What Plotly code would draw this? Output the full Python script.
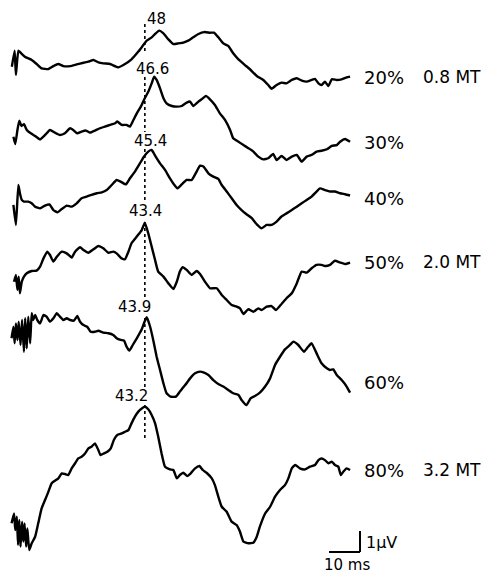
import plotly.graph_objects as go

# ---- data: time (ms) and amplitude (uV) for each averaged trace ----
labels = ["20%", "30%", "40%", "50%", "60%", "80%"]
mt_labels = ["0.8 MT", "", "", "2.0 MT", "", "3.2 MT"]
peak_latency = ["48", "46.6", "45.4", "43.4", "43.9", "43.2"]

t20 = [0.6,1.5,1.9,2.7,3.4,4.8,7.0,8.6,10.2,12.4,14.0,15.6,17.2,19.4,21.5,23.7,25.3,26.9,28.5,30.1,32.3,34.9,37.1,39.2,41.4,43.0,44.1,45.7,46.8,48.1,49.5,51.1,52.7,54.3,55.9,57.5,59.1,60.8,62.6,64.5,65.8,67.2,68.8,70.4,72.0,73.7,75.8,77.4,79.6,81.7,83.3,84.4,86.0,87.6,89.2,90.9,92.5,94.1,95.7,97.3,98.4,99.5,100.5,101.6,102.7,103.8,105.4,107.0,108.6,109.7]
v20 = [-0.32,0.44,-0.71,0.44,0.35,0.16,0,-0.19,-0.40,-0.43,-0.29,-0.19,-0.29,-0.29,-0.21,-0.13,-0.08,0,-0.11,-0.16,-0.19,-0.35,-0.19,0.03,0.40,0.71,0.92,1.08,1.24,1.40,1.27,0.98,0.76,0.79,0.83,0.92,1.08,1.24,1.33,1.30,1.30,1.08,0.79,0.67,0.32,0.03,-0.24,-0.44,-0.76,-0.95,-1.19,-1.37,-1.19,-1.08,-1.11,-0.95,-0.87,-0.98,-1.03,-0.95,-0.90,-1.11,-1.19,-1.03,-1.24,-0.92,-0.95,-0.92,-0.83,-0.79]

t30 = [1.1,1.7,2.4,3.0,3.7,4.5,5.4,6.7,8.1,9.7,11.3,12.9,14.5,16.1,17.7,19.4,20.4,21.7,23.1,24.5,25.8,27.4,29.0,30.6,32.3,33.9,34.6,36.0,37.6,38.7,39.8,40.9,42.2,43.2,44.6,45.7,46.5,47.3,48.4,49.5,50.5,52.2,53.8,55.4,57.0,58.1,59.1,60.8,61.8,63.2,64.5,66.1,67.7,69.4,71.0,72.0,73.7,75.3,76.9,78.5,80.1,81.7,83.3,84.9,86.0,87.6,89.2,90.9,92.5,94.1,95.7,97.3,98.9,100.5,102.2,103.8,105.4,106.5,108.1,109.7]
v30 = [-0.16,-0.51,0.16,0.60,0.35,0.43,0.16,0,-0.13,-0.29,-0.08,0.16,0.03,-0.08,0,0.24,0.16,0,0.08,0.13,0.03,0.13,0.24,0.32,0.40,0.48,0.56,0.40,0.40,0.32,0.63,0.95,1.27,1.59,1.98,2.38,2.70,2.54,2.14,1.67,1.43,1.30,1.27,1.30,1.46,1.51,1.30,1.51,1.62,1.78,1.62,1.35,0.95,0.63,0.16,-0.24,-0.40,-0.56,-0.71,-0.87,-1.11,-1.24,-1.19,-0.98,-1.27,-1.08,-1.27,-1.11,-1.03,-1.35,-1.11,-1.03,-0.87,-0.83,-0.76,-0.60,-0.56,-0.40,-0.27,-0.40]

t40 = [1.1,1.9,2.7,3.2,3.8,4.5,5.9,7.0,8.1,9.7,11.3,12.7,14.0,15.3,16.7,18.3,19.9,21.5,23.1,24.7,26.3,28.0,29.6,31.2,32.8,34.4,35.7,37.4,38.7,40.3,41.9,43.2,44.6,45.7,46.8,48.4,50.0,51.6,52.9,54.0,55.4,57.0,58.6,60.2,61.3,62.4,64.0,65.6,67.2,68.3,69.9,71.5,73.1,74.7,76.3,78.0,79.6,81.2,82.8,84.4,86.0,87.6,89.2,90.9,92.5,94.1,95.7,97.3,98.9,100.0,101.6,103.2,104.8,106.5,108.1,109.7]
v40 = [-0.08,-1.03,0.87,0.48,0.16,0.08,0.08,0,-0.16,-0.24,-0.11,-0.05,-0.32,-0.43,-0.27,-0.11,-0.16,0,0.24,0.32,0.40,0.48,0.52,0.63,0.87,1.11,1.03,0.90,1.19,1.51,1.90,2.22,2.46,2.54,2.27,1.90,1.59,1.19,0.90,0.71,0.90,1.11,1.11,1.51,1.79,1.75,1.43,1.27,1.16,0.87,0.56,0.24,-0.08,-0.32,-0.52,-0.71,-1.00,-1.19,-1.03,-1.03,-0.87,-0.63,-0.48,-0.32,-0.16,0,0.16,0.32,0.56,0.71,0.63,0.56,0.56,0.48,0.43,0.37]

t50 = [1.3,1.9,2.4,2.8,3.2,3.8,4.5,5.4,7.0,8.6,9.7,10.8,12.0,12.9,14.0,15.1,16.7,18.3,19.9,21.0,22.6,23.7,25.3,26.9,28.5,30.1,31.7,33.3,34.4,36.0,37.1,38.2,39.2,40.9,42.5,43.5,44.6,45.7,46.8,47.8,49.5,51.1,52.7,53.8,54.8,55.7,57.0,58.6,60.2,61.3,62.9,64.5,66.7,68.3,69.9,71.5,73.1,74.2,75.3,76.9,78.5,80.1,81.2,82.8,84.4,85.8,87.6,89.2,90.9,92.5,94.1,95.7,97.3,98.9,100.5,101.6,103.2,104.8,106.5,108.1,109.7]
v50 = [-0.40,-0.08,-0.79,-0.16,-0.95,-0.40,-0.16,0,0.11,0.13,0.32,0.71,1.03,0.87,0.56,0.79,1.03,0.95,0.75,1.03,1.24,1.11,0.98,1.14,1.30,1.19,0.98,1.03,0.95,0.71,0.67,1.03,1.43,1.75,2.06,2.41,1.90,1.27,0.63,0.08,-0.16,-0.48,-0.75,-0.40,0.08,0.29,0.16,-0.08,0.11,-0.03,-0.40,-0.71,-0.71,-1.03,-1.27,-1.51,-1.59,-1.67,-1.94,-1.71,-1.83,-1.67,-1.75,-1.59,-1.56,-1.75,-1.46,-1.19,-0.95,-0.48,0.08,0.03,0.24,0.40,0.40,0.35,0.40,0.60,0.51,0.44,0.51]

t60 = [0.5,1.1,1.5,1.9,2.4,2.8,3.4,3.9,4.5,4.9,5.4,5.9,6.5,7.0,7.5,8.1,8.8,9.7,10.8,11.8,12.9,14.0,15.1,16.1,17.2,18.3,19.4,20.6,21.7,22.6,23.7,24.9,26.0,27.4,28.5,30.1,31.7,33.3,34.4,35.7,36.8,37.6,38.5,39.6,40.9,42.5,43.2,44.1,45.2,46.2,47.3,48.4,49.5,50.5,51.8,53.5,54.8,56.5,58.1,59.7,61.3,62.6,64.0,65.6,67.2,68.8,70.4,72.0,73.7,74.7,76.3,77.6,79.0,80.6,82.3,83.9,85.5,87.1,88.7,90.3,91.4,93.0,94.8,96.2,97.3,98.9,100.5,102.2,103.2,104.3,105.4,107.0,108.6,109.7]
v60 = [-0.87,-0.32,-1.11,-0.16,-0.95,-0.08,-1.19,0,-1.51,0.08,-1.35,0.16,-1.11,0.32,0,0.24,0,-0.16,0.24,0.16,-0.08,0.08,0.32,0.16,0,0.08,0,-0.03,0.19,-0.08,-0.24,-0.32,-0.56,-0.56,-0.51,-0.60,-0.63,-0.71,-0.87,-0.95,-0.98,-1.27,-1.46,-1.19,-0.87,-0.44,-0.16,0.13,-0.32,-0.95,-1.75,-2.38,-3.02,-3.49,-3.65,-3.65,-3.41,-3.10,-2.78,-2.54,-2.46,-2.51,-2.62,-2.86,-3.05,-3.17,-3.33,-3.49,-3.57,-3.81,-4.05,-3.73,-3.62,-3.46,-3.17,-2.78,-2.14,-1.75,-1.40,-1.19,-1.03,-1.19,-1.51,-1.27,-1.11,-1.59,-2.06,-2.30,-2.38,-2.35,-2.62,-2.86,-3.17,-3.46]

t80 = [0.5,1.3,1.7,2.2,2.6,3.0,3.4,3.9,4.3,4.7,5.2,5.6,6.2,7.0,8.1,9.1,10.2,11.3,12.4,13.4,14.5,15.6,16.7,17.7,18.8,19.9,21.0,22.0,23.1,24.2,25.3,26.3,27.4,28.5,29.2,30.3,31.4,32.5,33.5,34.6,36.0,37.1,38.2,39.2,40.3,41.4,42.5,43.5,44.6,45.7,46.8,47.8,48.9,50.0,51.6,52.7,53.8,54.8,55.9,57.2,58.3,59.7,61.1,62.2,63.4,65.1,66.1,67.2,68.3,69.9,71.5,73.1,74.2,75.3,76.9,78.5,79.6,80.6,82.3,83.9,85.5,87.1,88.7,89.8,90.9,92.0,93.5,95.2,96.8,98.4,99.5,100.5,101.6,102.7,103.8,104.8,105.9,106.7,107.5,108.6,109.7]
v80 = [0.16,0.63,-0.16,0.48,-0.87,0.32,-0.95,0.24,-0.71,0.16,-0.95,-0.08,-1.11,-0.79,-0.48,0.16,0.87,1.27,1.67,2.06,2.19,2.30,2.54,2.51,2.46,2.78,3.02,3.25,3.33,3.49,3.73,3.81,3.97,3.65,3.41,3.49,3.57,3.73,4.13,4.37,4.44,4.52,4.60,4.92,5.24,5.48,5.63,5.71,5.59,5.32,4.92,4.29,3.49,2.86,2.73,2.70,2.30,2.46,2.57,2.41,2.54,2.78,2.89,2.70,2.57,2.30,1.98,1.43,0.95,0.71,0.24,0.08,-0.24,-0.71,-0.79,-0.76,-0.48,0,0.63,0.95,1.43,1.75,1.98,2.30,2.78,2.94,2.78,2.73,2.86,2.94,3.17,3.25,3.17,3.02,3.10,2.94,2.86,2.46,2.62,2.78,2.70]

times = [t20, t30, t40, t50, t60, t80]
volts = [v20, v30, v40, v50, v60, v80]

reference_latency_ms = 43.5   # dashed latency marker
scale_ms = 10                 # calibration bar
scale_uv = 1

# ---- layout (positions, in reference-window pixels) ----
WIN_W, WIN_H = 492, 577
M = 8                       # page body margin of the browser
W, H = WIN_W - M, WIN_H - M
PX_PER_MS = 3.1
PX_PER_UV = 21.0
X0_PX = 10.0
def xd(px):  # window pixel -> ms
    return (px - X0_PX) / PX_PER_MS
def yd(py):  # window pixel -> stacked uV
    return -py / PX_PER_UV
def px_paper(px):
    return (px - M) / W
def py_paper(py):
    return 1 - (py - M) / H

baseline_px = [60, 133.3, 203.3, 273.3, 320, 526.7]
offsets = [yd(b) for b in baseline_px]

fig = go.Figure()
for t, v, off in zip(times, volts, offsets):
    fig.add_trace(go.Scatter(x=t, y=[off + a for a in v], mode="lines",
                             line=dict(color="black", width=2.4, shape="spline", smoothing=0.4),
                             hoverinfo="skip", showlegend=False))

# dashed latency line, broken where labels sit
segments_px = [(24, 52), (77, 132), (149, 200), (222, 300), (318, 389), (405, 440)]
for (a, b) in segments_px:
    fig.add_shape(type="line", xref="x", yref="y",
                  x0=reference_latency_ms, x1=reference_latency_ms,
                  y0=yd(a), y1=yd(b),
                  line=dict(color="black", width=1.6, dash="3px,3px"))

font_small = dict(family="DejaVu Sans, Arial", size=15, color="black")
font_big = dict(family="DejaVu Sans, Arial", size=18, color="black")
font_mt = dict(family="DejaVu Sans, Arial", size=17, color="black")

peak_pos_px = [(156, 19), (152, 69), (150, 141), (145, 211), (134, 307), (131, 396)]
for txt, (px, py) in zip(peak_latency, peak_pos_px):
    fig.add_annotation(x=px_paper(px), y=py_paper(py), xref="paper", yref="paper",
                       text=txt, showarrow=False, font=font_small,
                       xanchor="center", yanchor="middle")

right_py = [77, 143, 198, 262, 382, 470]
for lab, mt, py in zip(labels, mt_labels, right_py):
    fig.add_annotation(x=px_paper(362), y=py_paper(py), xref="paper", yref="paper",
                       text=lab, showarrow=False, font=font_big,
                       xanchor="left", yanchor="middle")
    if mt:
        fig.add_annotation(x=px_paper(421), y=py_paper(py), xref="paper", yref="paper",
                           text=mt, showarrow=False, font=font_mt,
                           xanchor="left", yanchor="middle")

# calibration bars
bx1 = xd(360.0)
by0 = yd(552.0)
fig.add_shape(type="line", xref="x", yref="y", x0=bx1 - scale_ms, x1=bx1, y0=by0, y1=by0,
              line=dict(color="black", width=2))
fig.add_shape(type="line", xref="x", yref="y", x0=bx1, x1=bx1, y0=by0, y1=by0 + scale_uv,
              line=dict(color="black", width=2))
fig.add_annotation(x=px_paper(364), y=py_paper(542), xref="paper", yref="paper",
                   text="1\u00b5V", showarrow=False, font=dict(family="DejaVu Sans, Arial", size=16, color="black"),
                   xanchor="left", yanchor="middle")
fig.add_annotation(x=px_paper(347), y=py_paper(565), xref="paper", yref="paper",
                   text="10 ms", showarrow=False, font=dict(family="DejaVu Sans, Arial", size=15, color="black"),
                   xanchor="center", yanchor="middle")

fig.update_layout(width=W, height=H, autosize=False,
                  margin=dict(l=0, r=0, t=0, b=0),
                  paper_bgcolor="white", plot_bgcolor="white",
                  xaxis=dict(range=[xd(M), xd(M + W)], visible=False, fixedrange=True),
                  yaxis=dict(range=[yd(WIN_H), yd(M)], visible=False, fixedrange=True))

fig.write_html("out.html")
